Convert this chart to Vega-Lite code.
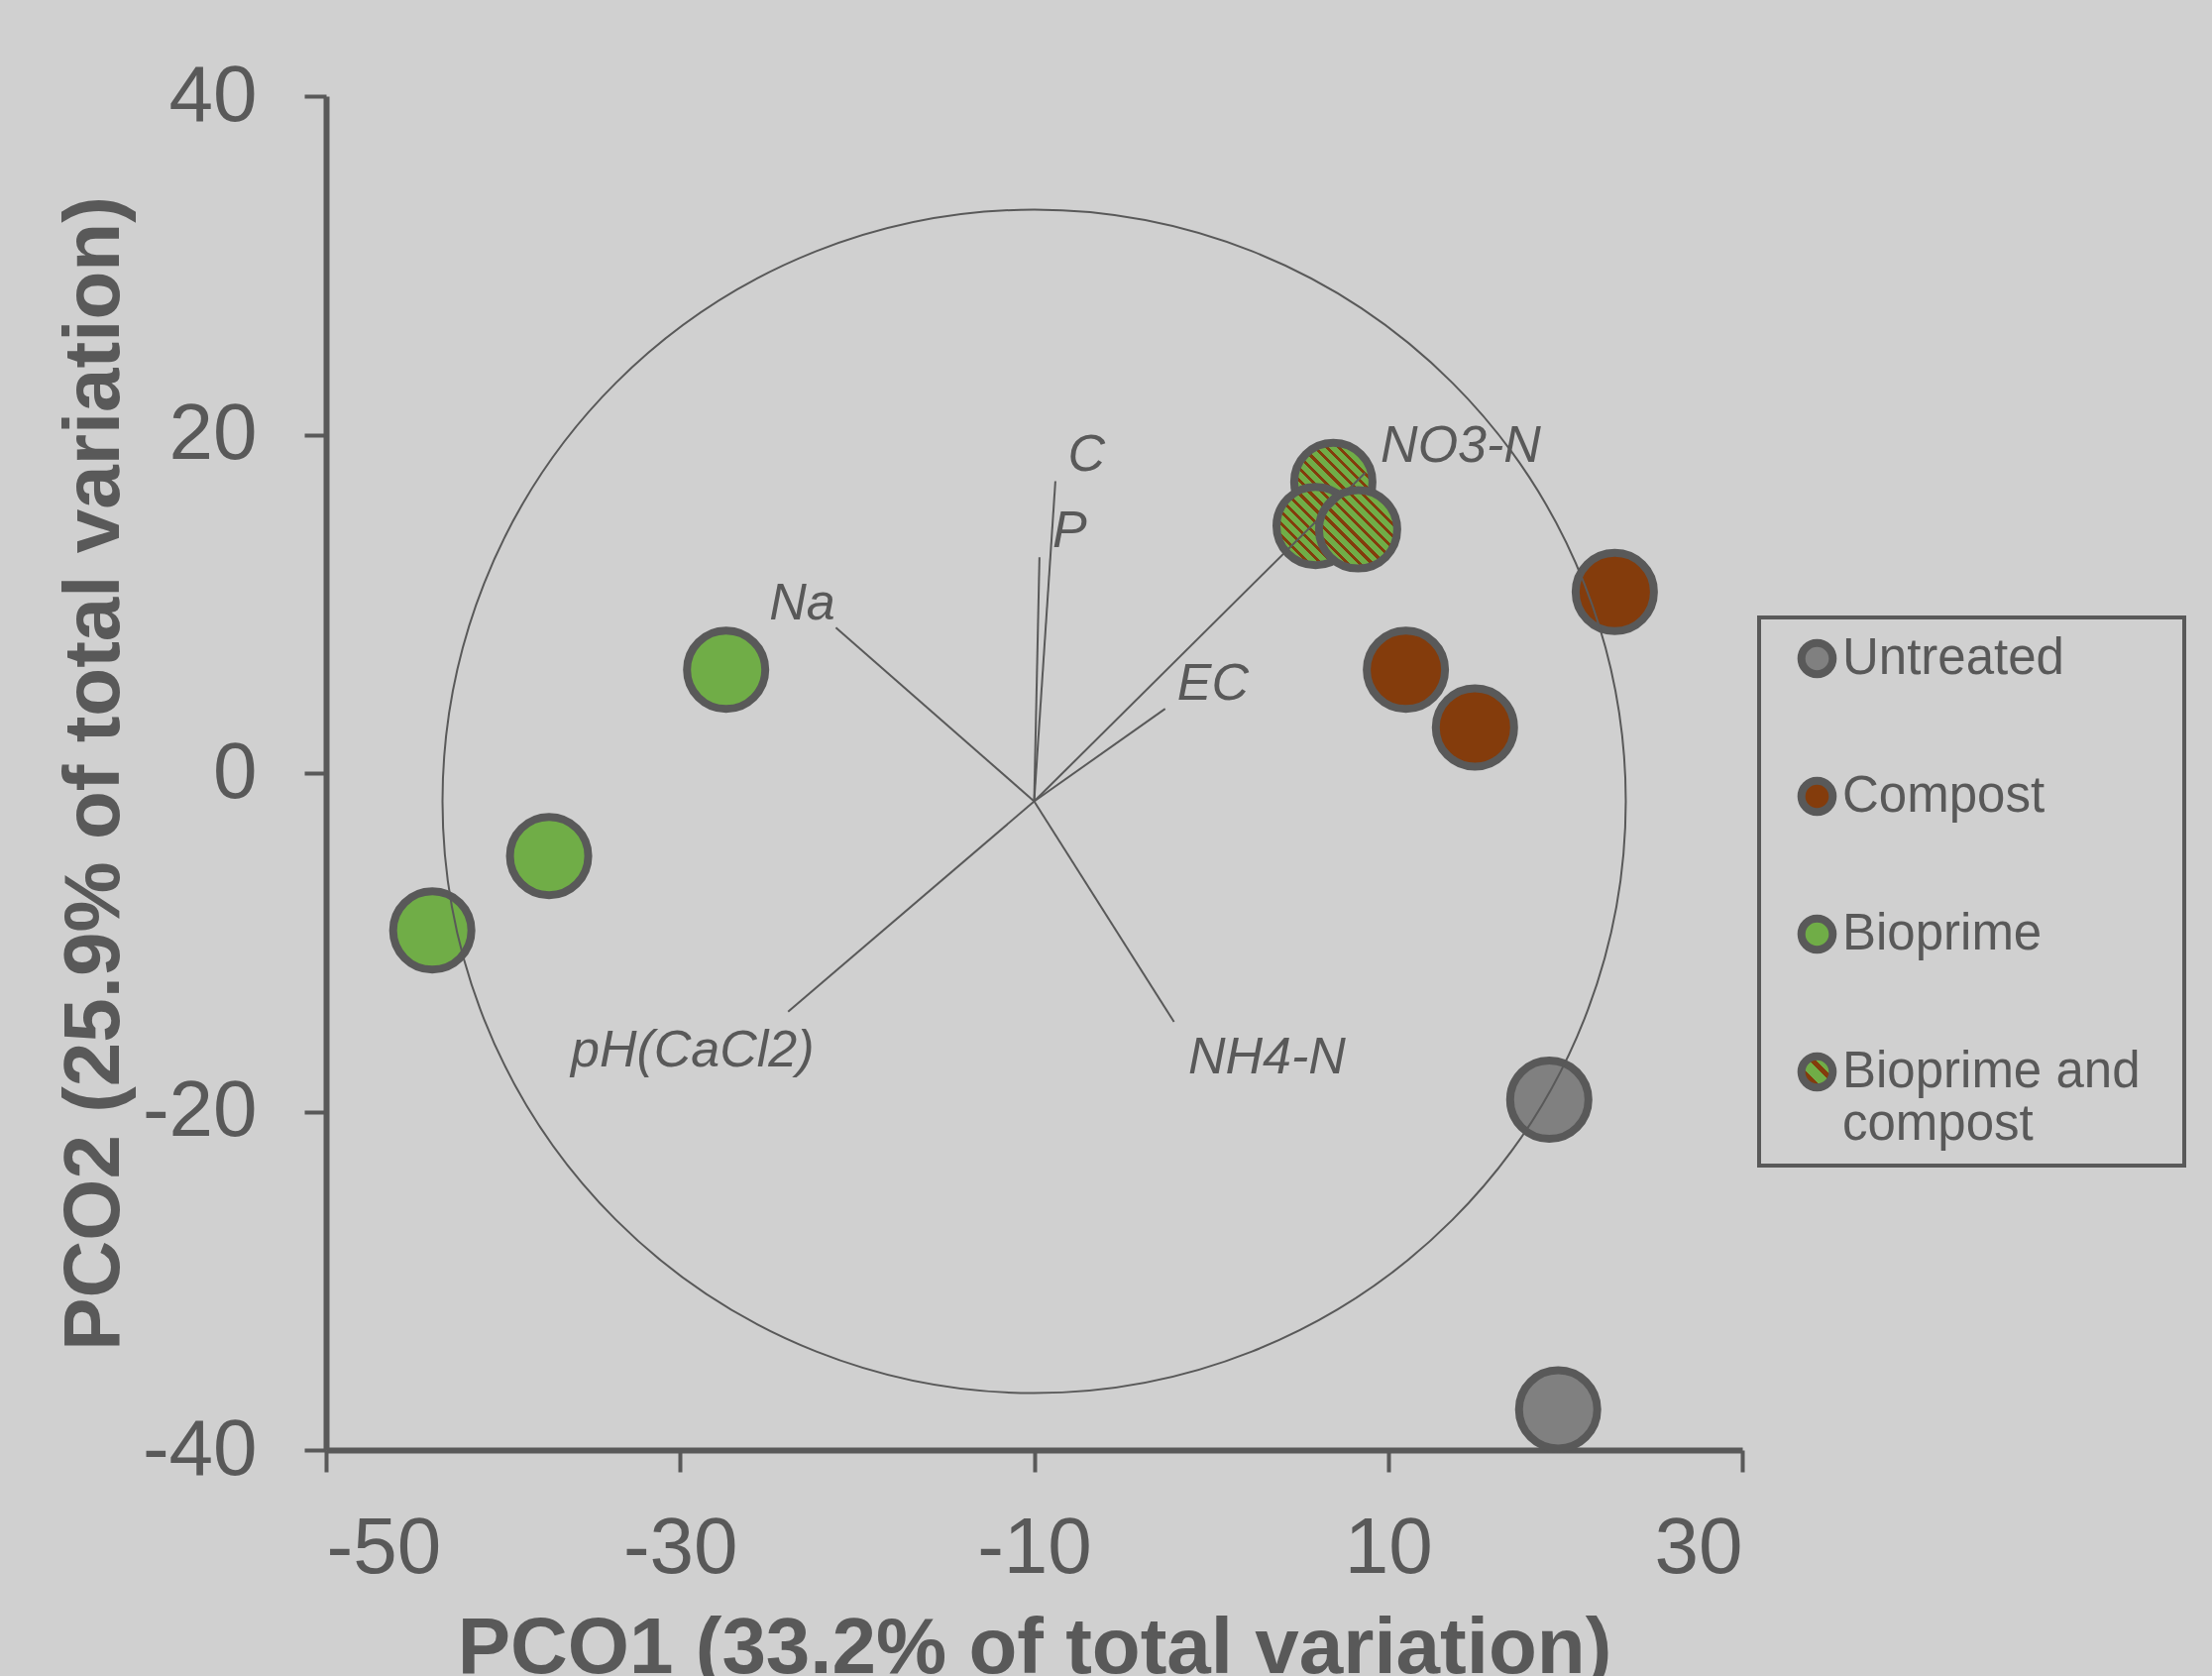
{
  "$schema": "https://vega.github.io/schema/vega-lite/v6.json",
  "width": 1429,
  "height": 1366,
  "autosize": {"type": "none"},
  "padding": {"left": 329, "top": 97, "right": 474, "bottom": 228},
  "background": "#d0d0d0",
  "config": {
    "view": {"stroke": null},
    "font": "Liberation Sans",
    "legend": {"strokeWidth": 4, "labelLineHeight": 60},
    "axis": {
      "domainColor": "#595959",
      "domainWidth": 6,
      "tickColor": "#595959",
      "tickWidth": 4,
      "tickSize": 22,
      "grid": false,
      "labelFont": "Liberation Sans",
      "labelFontSize": 80,
      "labelColor": "#595959",
      "labelExpr": "datum.value + ''",
      "titleFont": "Liberation Sans",
      "titleFontSize": 80,
      "titleFontWeight": "bold",
      "titleColor": "#595959"
    }
  },
  "datasets": {
    "samples": [
      {"group": "Untreated", "pco1": 19.1, "pco2": -19.3},
      {"group": "Untreated", "pco1": 19.6, "pco2": -37.6},
      {"group": "Compost", "pco1": 22.8, "pco2": 10.7},
      {"group": "Compost", "pco1": 11.0, "pco2": 6.1},
      {"group": "Compost", "pco1": 14.9, "pco2": 2.7},
      {"group": "Bioprime", "pco1": -27.4, "pco2": 6.1},
      {"group": "Bioprime", "pco1": -37.4, "pco2": -4.9},
      {"group": "Bioprime", "pco1": -44.0, "pco2": -9.3},
      {"group": "Bioprime and compost", "pco1": 6.9, "pco2": 17.2},
      {"group": "Bioprime and compost", "pco1": 5.9, "pco2": 14.6},
      {"group": "Bioprime and compost", "pco1": 8.3, "pco2": 14.4}
    ],
    "vectors": [
      {"variable": "C", "ox": -10, "oy": -1.67, "x_end": -8.8, "y_end": 17.25, "label_x": -7.05, "label_y": 18.8},
      {"variable": "P", "ox": -10, "oy": -1.67, "x_end": -9.7, "y_end": 12.75, "label_x": -8.0, "label_y": 14.3},
      {"variable": "Na", "ox": -10, "oy": -1.67, "x_end": -21.2, "y_end": 8.6, "label_x": -23.1, "label_y": 10.0},
      {"variable": "EC", "ox": -10, "oy": -1.67, "x_end": -2.6, "y_end": 3.8, "label_x": 0.1, "label_y": 5.25},
      {"variable": "NO3-N", "ox": -10, "oy": -1.67, "x_end": 8.7, "y_end": 17.75, "label_x": 14.1, "label_y": 19.3},
      {"variable": "pH(CaCl2)", "ox": -10, "oy": -1.67, "x_end": -23.9, "y_end": -14.1, "label_x": -29.3, "label_y": -16.4},
      {"variable": "NH4-N", "ox": -10, "oy": -1.67, "x_end": -2.1, "y_end": -14.7, "label_x": 3.15, "label_y": -16.8}
    ],
    "correlation_circle": [
      {"cx": -10, "cy": -1.67}
    ]
  },
  "layer": [
    {
      "data": {"name": "samples"},
      "mark": {"type": "point", "shape": "circle", "filled": true, "size": 6241, "stroke": "#595959", "strokeWidth": 8, "opacity": 1},
      "encoding": {
        "x": {
          "field": "pco1",
          "type": "quantitative",
          "title": "PCO1 (33.2% of total variation)",
          "scale": {"domain": [-50, 30], "nice": false, "zero": false},
          "axis": {"values": [-50, -30, -10, 10, 30], "labelPadding": 38, "titlePadding": 22}
        },
        "y": {
          "field": "pco2",
          "type": "quantitative",
          "title": "PCO2 (25.9% of total variation)",
          "scale": {"domain": [-40, 40], "nice": false, "zero": false},
          "axis": {"values": [-40, -20, 0, 20, 40], "labelPadding": 48, "titlePadding": 7}
        },
        "fill": {
          "condition": {
            "test": "datum.group === 'Bioprime and compost'",
            "value": {
              "gradient": "linear", "x1": 0, "y1": 1, "x2": 1, "y2": 0,
              "stops": [
                {"offset": 0, "color": "#70ad47"}, {"offset": 0.05, "color": "#70ad47"}, {"offset": 0.05, "color": "#843c0c"}, {"offset": 0.0769, "color": "#843c0c"},
                {"offset": 0.0769, "color": "#70ad47"}, {"offset": 0.1269, "color": "#70ad47"}, {"offset": 0.1269, "color": "#843c0c"}, {"offset": 0.1538, "color": "#843c0c"},
                {"offset": 0.1538, "color": "#70ad47"}, {"offset": 0.2038, "color": "#70ad47"}, {"offset": 0.2038, "color": "#843c0c"}, {"offset": 0.2308, "color": "#843c0c"},
                {"offset": 0.2308, "color": "#70ad47"}, {"offset": 0.2808, "color": "#70ad47"}, {"offset": 0.2808, "color": "#843c0c"}, {"offset": 0.3077, "color": "#843c0c"},
                {"offset": 0.3077, "color": "#70ad47"}, {"offset": 0.3577, "color": "#70ad47"}, {"offset": 0.3577, "color": "#843c0c"}, {"offset": 0.3846, "color": "#843c0c"},
                {"offset": 0.3846, "color": "#70ad47"}, {"offset": 0.4346, "color": "#70ad47"}, {"offset": 0.4346, "color": "#843c0c"}, {"offset": 0.4615, "color": "#843c0c"},
                {"offset": 0.4615, "color": "#70ad47"}, {"offset": 0.5115, "color": "#70ad47"}, {"offset": 0.5115, "color": "#843c0c"}, {"offset": 0.5385, "color": "#843c0c"},
                {"offset": 0.5385, "color": "#70ad47"}, {"offset": 0.5885, "color": "#70ad47"}, {"offset": 0.5885, "color": "#843c0c"}, {"offset": 0.6154, "color": "#843c0c"},
                {"offset": 0.6154, "color": "#70ad47"}, {"offset": 0.6654, "color": "#70ad47"}, {"offset": 0.6654, "color": "#843c0c"}, {"offset": 0.6923, "color": "#843c0c"},
                {"offset": 0.6923, "color": "#70ad47"}, {"offset": 0.7423, "color": "#70ad47"}, {"offset": 0.7423, "color": "#843c0c"}, {"offset": 0.7692, "color": "#843c0c"},
                {"offset": 0.7692, "color": "#70ad47"}, {"offset": 0.8192, "color": "#70ad47"}, {"offset": 0.8192, "color": "#843c0c"}, {"offset": 0.8462, "color": "#843c0c"},
                {"offset": 0.8462, "color": "#70ad47"}, {"offset": 0.8962, "color": "#70ad47"}, {"offset": 0.8962, "color": "#843c0c"}, {"offset": 0.9231, "color": "#843c0c"},
                {"offset": 0.9231, "color": "#70ad47"}, {"offset": 0.9731, "color": "#70ad47"}, {"offset": 0.9731, "color": "#843c0c"}, {"offset": 1, "color": "#843c0c"}
              ]
            }
          },
          "field": "group",
          "type": "nominal",
          "scale": {
            "domain": ["Untreated", "Compost", "Bioprime", "Bioprime and compost"],
            "range": [
              "#808080",
              "#843c0c",
              "#70ad47",
              {"expr": "{gradient: 'linear', x1: 0, y1: 1, x2: 1, y2: 0, stops: [{offset: 0, color: '#70ad47'}, {offset: 0.22, color: '#70ad47'}, {offset: 0.22, color: '#843c0c'}, {offset: 0.333, color: '#843c0c'}, {offset: 0.333, color: '#70ad47'}, {offset: 0.555, color: '#70ad47'}, {offset: 0.555, color: '#843c0c'}, {offset: 0.667, color: '#843c0c'}, {offset: 0.667, color: '#70ad47'}, {offset: 0.889, color: '#70ad47'}, {offset: 0.889, color: '#843c0c'}, {offset: 1, color: '#843c0c'}]}"}
            ]
          },
          "legend": {
            "title": null,
            "orient": "none",
            "legendX": 1446,
            "legendY": 526,
            "strokeColor": "#595959",
            "padding": 16,
            "symbolOffset": 17,
            "labelFont": "Liberation Sans",
            "labelFontSize": 51,
            "labelColor": "#595959",
            "labelLimit": 500,
            "labelOffset": 0,
            "symbolType": "circle",
            "symbolSize": 1000,
            "symbolStrokeWidth": 8,
            "symbolStrokeColor": "#595959",
            "rowPadding": 74,
            "labelExpr": "datum.label === 'Bioprime and compost' ? ['Bioprime and\u00a0\u00a0\u200b', 'compost'] : datum.label"
          }
        }
      }
    },
    {
      "data": {"name": "correlation_circle"},
      "mark": {"type": "point", "shape": "circle", "filled": false, "size": 1425600, "stroke": "#595959", "strokeWidth": 2, "opacity": 1},
      "encoding": {
        "x": {"field": "cx", "type": "quantitative"},
        "y": {"field": "cy", "type": "quantitative"}
      }
    },
    {
      "data": {"name": "vectors"},
      "mark": {"type": "rule", "stroke": "#595959", "strokeWidth": 2},
      "encoding": {
        "x": {"field": "ox", "type": "quantitative"},
        "y": {"field": "oy", "type": "quantitative"},
        "x2": {"field": "x_end"},
        "y2": {"field": "y_end"}
      }
    },
    {
      "data": {"name": "vectors"},
      "mark": {"type": "text", "font": "Liberation Sans", "fontStyle": "italic", "fontSize": 52, "color": "#595959", "align": "center", "baseline": "middle"},
      "encoding": {
        "x": {"field": "label_x", "type": "quantitative"},
        "y": {"field": "label_y", "type": "quantitative"},
        "text": {"field": "variable", "type": "nominal"}
      }
    }
  ]
}
